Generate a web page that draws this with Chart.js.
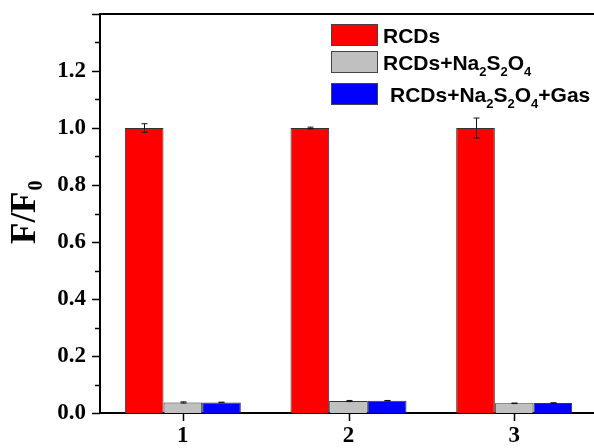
<!DOCTYPE html>
<html>
<head>
<meta charset="utf-8">
<script src="https://cdn.jsdelivr.net/npm/chart.js@4"></script>
<style>
  html, body { margin: 0; padding: 0; background: #fff; overflow: hidden; }
  #wrap { width: 600px; height: 448px; }
</style>
</head>
<body>
<div id="wrap"><canvas id="myChart" width="600" height="448"></canvas></div>
<script>
var categories = ['1', '2', '3'];
var seriesNames = ['RCDs', 'RCDs+Na2S2O4', 'RCDs+Na2S2O4+Gas'];
var rcdsValues = [1.0, 1.0, 1.0];
var rcdsErrors = [0.015, 0.003, 0.035];
var reducedValues = [0.037, 0.042, 0.034];
var reducedErrors = [0.002, 0.002, 0.001];
var gasValues = [0.037, 0.043, 0.035];
var gasErrors = [0.001, 0.001, 0.001];
var yTicks = [0.0, 0.2, 0.4, 0.6, 0.8, 1.0, 1.2];

var serifBold = { family: '"Liberation Serif", "Times New Roman", serif', size: 23, weight: 'bold' };

// draws text where every digit is a subscript
function drawSubText(ctx, text, x, y, size, subSize, subDrop) {
    var cx = x;
    for (var i = 0; i < text.length; i++) {
        var ch = text[i];
        var isSub = /[0-9]/.test(ch);
        ctx.font = 'bold ' + (isSub ? subSize : size) + 'px "Liberation Sans", Arial, sans-serif';
        ctx.fillText(ch, cx, isSub ? y + subDrop : y);
        cx += ctx.measureText(ch).width;
    }
}

var framePlugin = {
    id: 'frame',
    afterDraw: function(chart) {
        var ctx = chart.ctx;
        var area = chart.chartArea;
        var y = chart.scales.y;
        var x = chart.scales.x;
        ctx.save();
        ctx.strokeStyle = '#000';
        ctx.lineWidth = 2;
        ctx.beginPath();
        ctx.moveTo(area.left - 1, area.top);
        ctx.lineTo(area.right, area.top);
        ctx.stroke();

        // y ticks: majors every 0.2, minors in between
        ctx.lineWidth = 1.5;
        for (var k = 0; k <= 14; k++) {
            var py = Math.round(y.getPixelForValue(k / 10)) + 0.5;
            var len = k % 2 === 0 ? 8 : 5;
            ctx.beginPath();
            ctx.moveTo(area.left - len, py);
            ctx.lineTo(area.left, py);
            ctx.stroke();
        }
        // x ticks
        for (var c = 0; c < categories.length; c++) {
            var px = Math.round(x.getPixelForValue(c)) + 0.5;
            ctx.beginPath();
            ctx.moveTo(px, area.bottom);
            ctx.lineTo(px, area.bottom + 8);
            ctx.stroke();
        }

        // y axis title F/F0
        ctx.fillStyle = '#000';
        ctx.translate(35, 244);
        ctx.rotate(-Math.PI / 2);
        ctx.font = 'bold 35px "Liberation Serif", "Times New Roman", serif';
        ctx.textBaseline = 'alphabetic';
        ctx.textAlign = 'left';
        ctx.fillText('F/F', 0, 0);
        var w = ctx.measureText('F/F').width;
        ctx.font = 'bold 20px "Liberation Serif", "Times New Roman", serif';
        ctx.fillText('0', w + 1, 7);
        ctx.restore();

        // legend
        var boxes = [24, 51, 83];
        var textX = [383, 383, 390];
        ctx.save();
        ctx.textBaseline = 'alphabetic';
        ctx.textAlign = 'left';
        chart.data.datasets.forEach(function(ds, i) {
            ctx.fillStyle = ds.backgroundColor;
            ctx.fillRect(331, boxes[i], 47, 22);
            ctx.strokeStyle = '#444';
            ctx.lineWidth = 1;
            ctx.strokeRect(331.5, boxes[i] + 0.5, 46, 21);
            ctx.fillStyle = '#000';
            drawSubText(ctx, ds.label, textX[i], boxes[i] + 19, 21, 13, 6);
        });
        ctx.restore();
    }
};

var errorBarPlugin = {
    id: 'errorBars',
    afterDatasetsDraw: function(chart) {
        var ctx = chart.ctx;
        var y = chart.scales.y;
        ctx.save();
        ctx.strokeStyle = '#111';
        ctx.lineWidth = 1;
        chart.data.datasets.forEach(function(ds, i) {
            var meta = chart.getDatasetMeta(i);
            meta.data.forEach(function(bar, j) {
                var v = ds.data[j];
                var e = ds.errors[j];
                var top = y.getPixelForValue(v + e);
                var bottom = y.getPixelForValue(v - e);
                var bx = Math.round(bar.x) + 0.5;
                ctx.beginPath();
                ctx.moveTo(bx, top);
                ctx.lineTo(bx, bottom);
                ctx.moveTo(bx - 3, top);
                ctx.lineTo(bx + 3, top);
                ctx.moveTo(bx - 3, bottom);
                ctx.lineTo(bx + 3, bottom);
                ctx.stroke();
            });
        });
        ctx.restore();
    }
};

var ctx = document.getElementById('myChart').getContext('2d');
var myChart = new Chart(ctx, {
    type: 'bar',
    data: {
        labels: categories,
        datasets: [{
            label: seriesNames[0],
            data: rcdsValues,
            errors: rcdsErrors,
            backgroundColor: '#ff0000',
            borderColor: '#333',
            borderWidth: 1
        }, {
            label: seriesNames[1],
            data: reducedValues,
            errors: reducedErrors,
            backgroundColor: '#c0c0c0',
            borderColor: '#333',
            borderWidth: 1
        }, {
            label: seriesNames[2],
            data: gasValues,
            errors: gasErrors,
            backgroundColor: '#0000ff',
            borderColor: '#333',
            borderWidth: 1
        }]
    },
    options: {
        responsive: false,
        animation: false,
        layout: { padding: { top: 14, right: 3, left: 0, bottom: 0 } },
        categoryPercentage: 0.7,
        barPercentage: 1.0,
        plugins: {
            legend: { display: false },
            tooltip: { enabled: false }
        },
        scales: {
            x: {
                grid: { display: false, drawTicks: false },
                border: { display: true, color: '#000', width: 2 },
                ticks: { font: serifBold, color: '#000', padding: 9 },
                afterFit: function(scale) {
                    scale.height = 35;
                    scale.paddingLeft = 0;
                    scale.paddingRight = 0;
                }
            },
            y: {
                min: 0,
                max: 1.4,
                grid: { display: false, drawTicks: false },
                border: { display: true, color: '#000', width: 2 },
                afterBuildTicks: function(scale) {
                    scale.ticks = yTicks.map(function(v) { return { value: v }; });
                },
                ticks: {
                    font: serifBold,
                    color: '#000',
                    padding: 14,
                    callback: function(v) { return Number(v).toFixed(1); }
                },
                afterFit: function(scale) {
                    scale.width = 100;
                    scale.paddingTop = 0;
                    scale.paddingBottom = 0;
                }
            }
        }
    },
    plugins: [errorBarPlugin, framePlugin]
});
</script>
</body>
</html>
